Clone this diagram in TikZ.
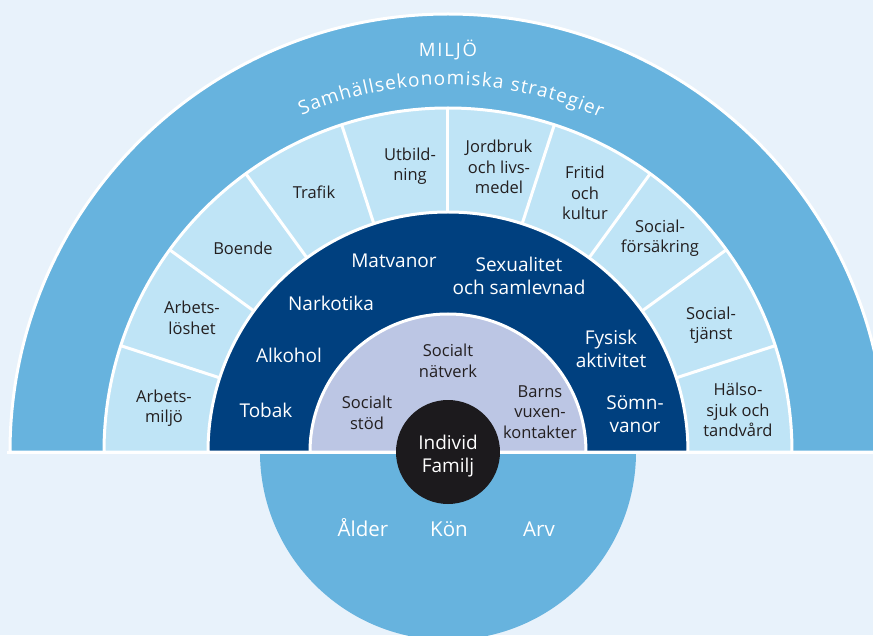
\documentclass[tikz,border=0pt]{standalone}
\usepackage{fontspec}
\setmainfont{Open Sans}
\newfontfamily\spacedfont[LetterSpace=10]{Open Sans}
\usetikzlibrary{decorations.text}
\definecolor{bg}{RGB}{232,242,251}
\definecolor{miljo}{RGB}{103,179,222}
\definecolor{ringlight}{RGB}{191,228,246}
\definecolor{ringdark}{RGB}{0,64,127}
\definecolor{lav}{RGB}{188,198,228}
\definecolor{core}{RGB}{28,26,29}
\definecolor{ink}{RGB}{35,31,32}
\begin{document}
\begin{tikzpicture}[x=1pt,y=1pt,
  lt/.style={text=ink, font=\fontsize{16.5}{20.5}\selectfont, align=center, inner sep=0pt},
  dk/.style={text=white, font=\fontsize{19}{23}\selectfont, align=center, inner sep=0pt},
  bt/.style={text=white, font=\fontsize{20.5}{23}\selectfont, anchor=base, inner sep=0pt},
  sep/.style={draw=white, line width=3pt}]
\fill[bg] (-448,-183) rectangle (425,452);
\useasboundingbox (-448,-183) rectangle (425,452);
\clip (-448,-183) rectangle (425,452);
% outer ring: MILJÖ
\filldraw[fill=miljo, sep] (438,0) arc[start angle=0, end angle=180, radius=438] -- cycle;
% light ring
\filldraw[fill=ringlight, sep] (344,0) arc[start angle=0, end angle=180, radius=344] -- cycle;
\foreach \a in {18,36,...,162} \draw[sep] (\a:238) -- (\a:345);
% dark ring
\filldraw[fill=ringdark, sep] (240,0) arc[start angle=0, end angle=180, radius=240] -- cycle;
% lavender
\filldraw[fill=lav, sep] (138,0) arc[start angle=0, end angle=180, radius=138] -- cycle;
% lower half
\fill[miljo] (188,0) arc[start angle=0, end angle=-180, radius=188] -- cycle;
\draw[sep] (-441,0) -- (425,0);
% core
\fill[core] (0,0) circle[radius=52];

% outer texts
\node[text=white, font=\spacedfont\fontsize{18.5}{20}\selectfont, anchor=base, inner sep=0pt] (miljotext) at (0,395) {MILJÖ};
\path[decorate, decoration={text along path, text color=white, text align={fit to path},
  text={|\fontsize{19}{19}\selectfont|Samhällsekonomiska strategier}}]
  (113.5:367) arc[start angle=113.5, end angle=65.5, radius=367];

% light ring labels
\node[lt] (arbmiljo) at (-284,44) {Arbets-\\miljö};
\node[lt] (arbloshet) at (-256,134) {Arbets-\\löshet};
\node[lt] (boende) at (-205,204) {Boende};
\node[lt] (trafik) at (-134,260) {Trafik};
\node[lt] (utbildning) at (-38,286) {Utbild-\\ning};
\node[lt] (jordbruk) at (51,285) {Jordbruk\\och livs-\\medel};
\node[lt] (fritid) at (137,259) {Fritid\\och\\kultur};
\node[lt] (socfors) at (212,214) {Social-\\försäkring};
\node[lt] (soctj) at (263,127) {Social-\\tjänst};
\node[lt] (halso) at (290,42) {Hälso-\\sjuk och\\tandvård};

% dark ring labels
\node[dk] (tobak) at (-182,42) {Tobak};
\node[dk] (alkohol) at (-159,97) {Alkohol};
\node[dk] (narkotika) at (-117,149) {Narkotika};
\node[dk] (matvanor) at (-54,191) {Matvanor};
\node[dk] (sexualitet) at (71,176) {Sexualitet\\och samlevnad};
\node[dk] (fysisk) at (163,103) {Fysisk\\aktivitet};
\node[dk] (somn) at (187,38) {Sömn-\\vanor};

% lavender labels
\node[lt] (socnat) at (0,91) {Socialt\\nätverk};
\node[lt] (socstod) at (-81,39) {Socialt\\stöd};
\node[lt] (barns) at (92,40) {Barns\\vuxen-\\kontakter};

% core
\node[dk] (individ) at (0,-4) {Individ\\Familj};

% lower half
\node[bt] (alder) at (-85,-84) {Ålder};
\node[bt] (kon) at (1,-84) {Kön};
\node[bt] (arv) at (91,-84) {Arv};
\end{tikzpicture}
\end{document}
